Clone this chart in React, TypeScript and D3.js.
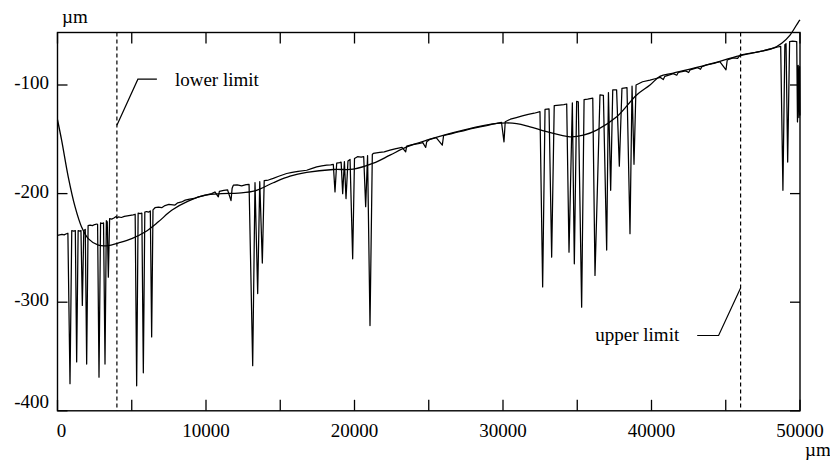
import React from 'react';
import * as d3 from 'd3';

// measured surface profile [position µm, height µm]
const profile: [number, number][] = [
  [0, -238.5], [150, -238], [300, -237.5], [450, -238], [600, -237], [700, -236.5],
  [842, -375], [960, -234], [1100, -234.5], [1200, -234], [1290, -355], [1390, -234],
  [1500, -234.5], [1580, -234], [1672, -303], [1770, -234], [1870, -233], [1964, -357],
  [2060, -229.5], [2200, -229], [2350, -229.5], [2500, -228.5], [2650, -228], [2700, -228.5],
  [2795, -369], [2900, -227], [3000, -227.5], [3100, -227], [3199, -357], [3290, -225],
  [3350, -226], [3423, -277], [3510, -223], [3650, -223.5], [3800, -222.5], [3950, -221],
  [4000, -222.5], [4100, -221.5], [4300, -222], [4500, -221], [4700, -220.5], [4900, -220],
  [5100, -219.5], [5230, -219], [5331, -377], [5430, -218], [5560, -218.5], [5680, -218],
  [5780, -365], [5880, -217], [6000, -216.5], [6150, -217], [6250, -216], [6341, -332],
  [6430, -215], [6566, -213], [6800, -212.5], [7016, -213], [7240, -211], [7500, -210],
  [7912, -210.5], [8100, -208.5], [8360, -207.7], [8600, -206], [8900, -205], [9200, -204.5],
  [9500, -203], [9800, -202], [10100, -201], [10384, -200], [10600, -198.5], [10830, -203],
  [10900, -198], [11200, -197], [11450, -196.5], [11684, -206.5], [11760, -195], [11840, -192.3],
  [12100, -192], [12400, -192.8], [12700, -191.8], [12900, -191.5], [13144, -358.5], [13300, -190],
  [13480, -292], [13620, -189], [13793, -264], [13920, -188], [14200, -187.5], [14530, -186],
  [14900, -184], [15430, -181.5], [15800, -180.5], [16200, -179.5], [16780, -178.5], [17100, -177],
  [17455, -175.4], [17800, -174.5], [18128, -173.8], [18400, -173.5], [18572, -173], [18687, -198.5],
  [18800, -172], [19000, -171.5], [19100, -171], [19204, -200], [19320, -170.5], [19428, -204.6],
  [19560, -170], [19700, -168.5], [19877, -260], [20000, -167.7], [20200, -166], [20450, -166.5],
  [20620, -166], [20752, -212], [20880, -165], [21044, -321.5], [21200, -164], [21266, -163],
  [21700, -162], [22000, -161.5], [22391, -160], [22800, -158.5], [23200, -157.5], [23446, -161.5],
  [23515, -156.3], [23900, -155], [24300, -154], [24600, -153], [24794, -157.5], [24862, -152.3],
  [25084, -150], [25500, -148.5], [25913, -155.4], [26000, -146.5], [26500, -145], [26900, -143.5],
  [27327, -142.2], [27800, -140.5], [28451, -138.5], [28900, -137.5], [29300, -136], [29576, -135.4],
  [29900, -134.5], [30067, -152.3], [30150, -133.8], [30500, -131.5], [30900, -130], [31300, -128.5],
  [31700, -127], [32100, -126], [32490, -124.6], [32670, -286], [32830, -122.5], [33100, -122],
  [33277, -258.5], [33450, -119], [33800, -118.5], [34100, -118], [34290, -117.5], [34445, -253.9],
  [34670, -116.5], [34803, -264.6], [34960, -115], [35070, -115.5], [35296, -304.6], [35460, -113.5],
  [35700, -113], [36045, -112], [36195, -275.4], [36530, -109], [36760, -109.5], [36981, -252],
  [37100, -107], [37250, -197], [37390, -104.6], [37650, -104.5], [37834, -174.8], [38010, -103],
  [38350, -102.5], [38552, -236.9], [38690, -101], [38822, -173], [38960, -100], [39400, -97],
  [39900, -95.5], [40300, -94], [40600, -93], [40794, -95], [40900, -92], [41470, -89.5],
  [41700, -91], [41800, -88.5], [42300, -87], [42500, -88.5], [42600, -86], [43100, -84],
  [43300, -85.5], [43400, -83], [43715, -81.5], [44200, -80], [44600, -78.5], [45017, -86],
  [45100, -77], [45500, -75], [45800, -75.5], [45960, -72.5], [46500, -71], [47000, -70],
  [47500, -68.5], [47800, -67.5], [48200, -66], [48500, -65], [48700, -64.5], [48850, -197],
  [48980, -63], [49060, -62], [49170, -171], [49300, -60], [49500, -59.5], [49780, -60],
  [49830, -134], [49880, -82], [49930, -130], [49970, -83], [50000, -128],
];

// fitted smooth reference curve [position µm, height µm]
const fitCurve: [number, number][] = [
  [0, -132], [280, -151], [730, -185], [1180, -212], [1630, -231], [2070, -241.5],
  [2750, -247.5], [3400, -248], [4090, -245.5], [5000, -241.5], [5890, -235.4], [6790, -226],
  [7690, -215.4], [8800, -207], [9930, -201.5], [11060, -200], [12180, -199.5], [13300, -197.5],
  [14530, -190], [15660, -184], [16780, -180.5], [18570, -177.8], [19920, -177.5], [21270, -172],
  [22390, -164.6], [23520, -157], [24860, -150.8], [27330, -141.5], [29580, -135.4], [30920, -135.5],
  [31820, -138.5], [32940, -143], [34510, -147.7], [35410, -146.2], [36310, -141.5], [37660, -129.3],
  [39000, -109.2], [39900, -100], [40570, -92], [41470, -89], [43715, -81.5], [45960, -73],
  [48200, -66], [48770, -61.5], [49330, -54], [49890, -42], [50000, -40],
];

const xTicks = [0, 5000, 10000, 15000, 20000, 25000, 30000, 35000, 40000, 45000, 50000];
const xLabels = [0, 10000, 20000, 30000, 40000, 50000];
const yTicks = [-100, -200, -300, -400];
const limits = [
  { x: 4000, label: 'lower limit', anchorY: -137 },
  { x: 46000, label: 'upper limit', anchorY: -287 },
];

const FONT = "'Liberation Serif', 'Times New Roman', Times, serif";

export default function App() {
  const left = 57.5, right = 800, top = 32.5, bottom = 410.8;
  const x = d3.scaleLinear().domain([0, 50000]).range([left, right]);
  const y = d3.scaleLinear().domain([-400, -100]).range([bottom, 85]);

  const line = d3.line<[number, number]>().x(d => x(d[0])).y(d => y(d[1]));
  const smooth = d3.line<[number, number]>().x(d => x(d[0])).y(d => y(d[1])).curve(d3.curveCatmullRom.alpha(0.5));

  const tl = 11;
  const lower = limits[0], upper = limits[1];
  const la = [x(lower.x), y(lower.anchorY)];
  const le = [la[0] + 21, la[1] - 46];
  const lf = [le[0] + 19, le[1]];
  const ua = [x(upper.x), y(upper.anchorY)];
  const ue = [ua[0] - 22, ua[1] + 47.4];
  const uf = [ue[0] - 21.4, ue[1]];

  return (
    <div style={{ position: 'fixed', left: 0, top: 0 }}>
      <svg width={830} height={461} style={{ display: 'block', background: '#fff' }} fontFamily={FONT} fontSize={19}>
        <rect x={0} y={0} width={830} height={461} fill="#fff" />
        {limits.map(l => (
          <line key={l.label} x1={x(l.x)} x2={x(l.x)} y1={top} y2={bottom}
            stroke="#000" strokeWidth={1.2} strokeDasharray="4,3" />
        ))}
        <path d={smooth(fitCurve) || ''} fill="none" stroke="#000" strokeWidth={1.3} />
        <path d={line(profile) || ''} fill="none" stroke="#000" strokeWidth={1.25} strokeLinejoin="round" />
        <rect x={left} y={top} width={right - left} height={bottom - top} fill="none" stroke="#000" strokeWidth={1.4} />
        {xTicks.map(t => (
          <g key={'xt' + t}>
            <line x1={x(t)} x2={x(t)} y1={bottom} y2={bottom - tl} stroke="#000" strokeWidth={1.3} />
            <line x1={x(t)} x2={x(t)} y1={top} y2={top + tl} stroke="#000" strokeWidth={1.3} />
          </g>
        ))}
        {yTicks.map(t => (
          <g key={'yt' + t}>
            <line x1={left} x2={left + 10} y1={y(t)} y2={y(t)} stroke="#000" strokeWidth={1.3} />
            <line x1={right} x2={right - 10} y1={y(t)} y2={y(t)} stroke="#000" strokeWidth={1.3} />
            <text x={49} y={Math.min(y(t) + 4, bottom - 2.5)} textAnchor="end">{t}</text>
          </g>
        ))}
        {xLabels.map(t => (
          <text key={'xl' + t} x={x(t) + (t === 0 ? 4 : 0)} y={437} textAnchor="middle">{t}</text>
        ))}
        <text x={62} y={22.5}>µm</text>
        <text x={805} y={456}>µm</text>
        <polyline points={`${la[0]},${la[1]} ${le[0]},${le[1]} ${lf[0]},${lf[1]}`} fill="none" stroke="#000" strokeWidth={1.2} />
        <text x={lf[0] + 18} y={lf[1] + 7}>{lower.label}</text>
        <polyline points={`${ua[0]},${ua[1]} ${ue[0]},${ue[1]} ${uf[0]},${uf[1]}`} fill="none" stroke="#000" strokeWidth={1.2} />
        <text x={uf[0] - 18} y={uf[1] + 5.5} textAnchor="end">{upper.label}</text>
      </svg>
    </div>
  );
}
